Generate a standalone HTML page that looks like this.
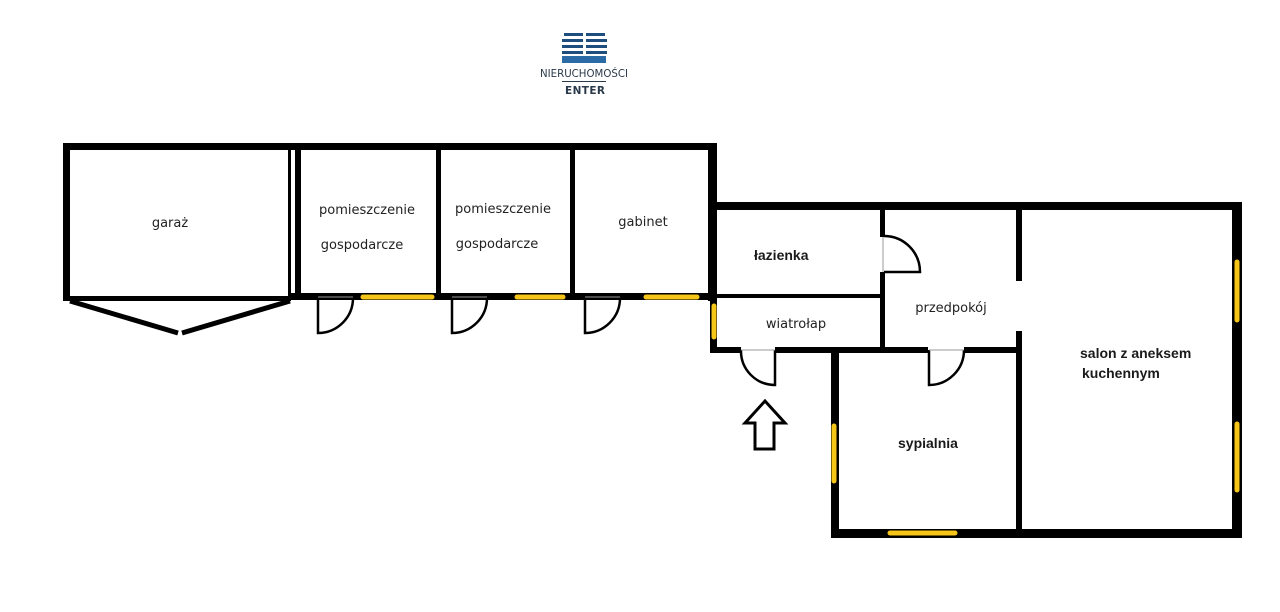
<!DOCTYPE html>
<html><head><meta charset="utf-8"><style>
html,body{margin:0;padding:0;background:#fff;width:1280px;height:612px;overflow:hidden}
svg{display:block}
text{font-family:"DejaVu Sans","Liberation Sans",sans-serif;fill:#222}
.b{font-family:"Liberation Sans",sans-serif;font-weight:bold;font-size:14px;fill:#1a1a1a}
</style></head><body>
<svg width="1280" height="612" viewBox="0 0 1280 612" xmlns="http://www.w3.org/2000/svg">
<!-- logo -->
<g fill="#1d4e7e">
<rect x="564" y="33" width="19" height="3"/><rect x="586" y="33" width="19" height="3"/>
<rect x="562" y="39" width="21" height="3"/><rect x="586" y="39" width="21" height="3"/>
<rect x="562" y="45" width="21" height="3"/><rect x="586" y="45" width="21" height="3"/>
<rect x="562" y="51" width="21" height="3"/><rect x="586" y="51" width="21" height="3"/>
<rect x="562" y="56" width="44" height="7" fill="#2a6aa5"/>
</g>
<text x="584" y="77" font-size="11" text-anchor="middle" textLength="88" lengthAdjust="spacingAndGlyphs" style="fill:#2b3a4a">NIERUCHOMOŚCI</text>
<rect x="562" y="81" width="44" height="1" fill="#2b3a4a"/>
<text x="585" y="94" font-size="10.5" text-anchor="middle" textLength="40" font-weight="bold" style="fill:#2b3a4a">ENTER</text>

<g fill="#000">
<rect x="63" y="143" width="654" height="7"/>
<rect x="63" y="143" width="7" height="158"/>
<rect x="63" y="296" width="228" height="5"/>
<rect x="288" y="148" width="3" height="152"/>
<rect x="295" y="148" width="6" height="152"/>
<rect x="436" y="148" width="5" height="150"/>
<rect x="570" y="148" width="5" height="150"/>
<rect x="708" y="143" width="9" height="158"/>
<rect x="291" y="293" width="426" height="7"/>
<rect x="710" y="202" width="532" height="8"/>
<rect x="710" y="202" width="7" height="151"/>
<rect x="717" y="294" width="166" height="4"/>
<rect x="880" y="208" width="5" height="29"/>
<rect x="880" y="272" width="5" height="81"/>
<rect x="710" y="347" width="31" height="6"/>
<rect x="775" y="347" width="153" height="6"/>
<rect x="964" y="347" width="57" height="6"/>
<rect x="831" y="347" width="8" height="191"/>
<rect x="1016" y="208" width="6" height="73"/>
<rect x="1016" y="331" width="6" height="201"/>
<rect x="1232" y="202" width="10" height="336"/>
<rect x="831" y="529" width="411" height="9"/>
</g>
<path d="M70 301 L178 333 M182 333 L290 301" stroke="#000" stroke-width="5" fill="none"/>
<g stroke="#f5c518" stroke-width="5" stroke-linecap="round">
<line x1="363" y1="297" x2="432" y2="297"/>
<line x1="517" y1="297" x2="563" y2="297"/>
<line x1="646" y1="297" x2="697" y2="297"/>
<line x1="714" y1="306" x2="714" y2="337"/>
<line x1="1237" y1="262" x2="1237" y2="320"/>
<line x1="1237" y1="424" x2="1237" y2="490"/>
<line x1="834" y1="426" x2="834" y2="481"/>
<line x1="890" y1="533" x2="955" y2="533"/>
</g>
<g stroke="#000" stroke-width="2.5" fill="none">
<path d="M318 298 V333 A35 35 0 0 0 353 298"/>
<path d="M452 298 V333 A35 35 0 0 0 487 298"/>
<path d="M585 298 V333 A35 35 0 0 0 620 298"/>
<path d="M775 350 V385 A34 34 0 0 1 741 350"/>
<path d="M884 272 H920 A36 36 0 0 0 884 236"/>
<path d="M929 350 V385 A35 35 0 0 0 964 350"/>
</g>
<g stroke="#999" stroke-width="1">
<line x1="318" y1="297" x2="353" y2="297"/><line x1="452" y1="297" x2="487" y2="297"/><line x1="585" y1="297" x2="620" y2="297"/>
<line x1="741" y1="350" x2="775" y2="350"/><line x1="929" y1="350" x2="964" y2="350"/><line x1="883" y1="237" x2="883" y2="272"/>
</g>
<path d="M765 401 L785 423 L774 423 L774 449 L755 449 L755 423 L745 423 Z" fill="none" stroke="#000" stroke-width="3" stroke-linejoin="miter"/>
<g font-size="13">
<text x="170" y="227" text-anchor="middle">garaż</text>
<text x="367" y="214" text-anchor="middle">pomieszczenie</text>
<text x="362" y="249" text-anchor="middle">gospodarcze</text>
<text x="503" y="213" text-anchor="middle">pomieszczenie</text>
<text x="497" y="248" text-anchor="middle">gospodarcze</text>
<text x="643" y="226" text-anchor="middle">gabinet</text>
<text x="796" y="328" text-anchor="middle">wiatrołap</text>
<text x="951" y="312" text-anchor="middle">przedpokój</text>
</g>
<text class="b" x="754" y="260">łazienka</text>
<text class="b" x="1080" y="358">salon z aneksem</text>
<text class="b" x="1082" y="378">kuchennym</text>
<text class="b" x="898" y="448">sypialnia</text>
</svg>
</body></html>
